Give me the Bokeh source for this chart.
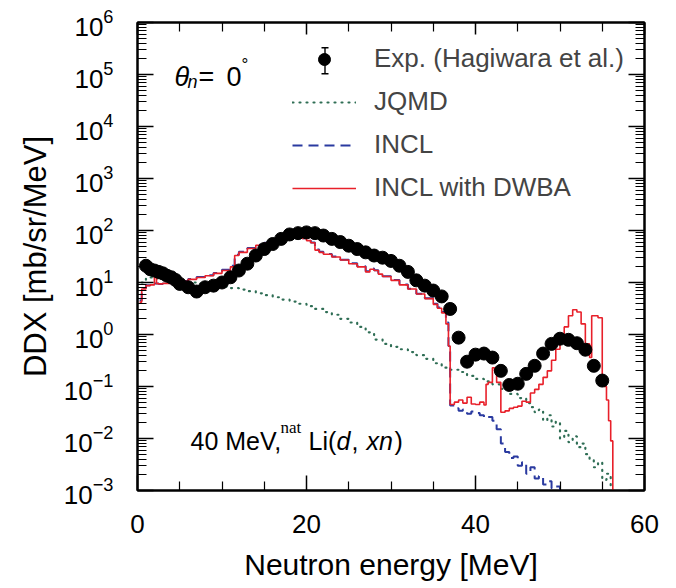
import numpy as np
from bokeh.plotting import figure
from bokeh.models import (LogAxis, LinearAxis, Range1d, Label, Legend, LegendItem,
                          FixedTicker, LogTicker, CustomJSTickFormatter, BoxAnnotation)
from bokeh.embed import file_html
from bokeh.resources import INLINE

FONT = "Liberation Sans"

# ---------------- data ----------------
exp_energy = [1.0, 1.5, 2.0, 2.5, 3.0, 3.5, 4.0, 4.5, 5.0, 6, 7, 8, 9, 10, 11, 12, 13, 14, 15,
              16, 17, 18, 19, 20, 21, 22, 23, 24, 25, 26, 27, 28, 29, 30, 31, 32, 33, 34, 35,
              36, 37, 38, 39, 40, 41, 42, 43, 44, 45, 46, 47, 48, 49, 50, 51, 52, 53, 54, 55]
exp_ddx = [21, 18, 17, 16, 15, 13.5, 12.6, 11.2, 9.4, 8.1, 6.7, 8.1, 8.7, 10, 12.6, 17, 23, 33,
           44, 55, 69, 84, 89, 92, 89, 80, 69, 60, 51, 44, 38, 33, 30, 26, 21, 16, 11, 8.7, 7.0,
           5.4, 3.1, 0.87, 0.30, 0.41, 0.43, 0.36, 0.20, 0.107, 0.113, 0.175, 0.25, 0.43, 0.66,
           0.83, 0.79, 0.68, 0.51, 0.25, 0.13]

dwba_edges = [0.25, 0.5, 1.0, 1.5, 2.0, 2.25, 2.5, 3, 4, 5, 6, 7, 8, 9, 10, 11, 11.5, 12, 13,
              14, 15, 16, 17, 18, 19, 19.5, 20, 20.5, 21, 21.5, 22, 23, 24, 25, 26, 27, 27.5,
              28, 28.5, 29, 30, 31, 32, 33, 34, 35, 35.5, 36, 36.5, 36.8, 37, 37.5, 38, 38.5,
              39, 39.5, 40, 40.5, 41, 41.25, 41.5, 42, 42.25, 42.5, 43, 43.5, 44, 44.5, 45,
              45.5, 46, 46.5, 47, 47.5, 48, 48.5, 49, 49.5, 50, 50.5, 51, 51.5, 52, 52.5, 53,
              53.5, 53.75, 54, 54.5, 55, 55.25, 55.5, 55.75, 56, 56.25, 57]
dwba_ddx = [4.2, 7.5, 8.7, 9.0, 13.5, 9.5, 9.4, 9.6, 9.8, 10.5, 11.5, 12.5, 13.5, 15, 17, 20,
            33, 38, 45, 52, 57, 62, 72, 76, 75, 70, 64, 58, 42, 38, 35, 31, 27, 23, 20, 16, 18,
            17, 14.5, 13, 11, 9, 7.5, 6, 4.9, 3.8, 3.2, 2.6, 1.6, 0.6, 0.045, 0.05, 0.055,
            0.048, 0.062, 0.046, 0.045, 0.05, 0.044, 0.11, 0.12, 0.23, 0.2, 0.12, 0.032, 0.034,
            0.038, 0.04, 0.042, 0.052, 0.05, 0.075, 0.088, 0.11, 0.15, 0.2, 0.32, 0.52, 0.9,
            1.4, 2.3, 3.0, 2.7, 1.6, 0.66, 0.36, 2.3, 2.3, 2.1, 0.13, 0.1, 0.055, 0.022, 0.009,
            1e-6]

incl_edges = [0.25, 0.5, 1.0, 1.5, 2.0, 2.5, 3, 4, 5, 6, 7, 8, 9, 10, 11, 11.5, 12, 13, 14,
              15, 16, 17, 18, 19, 19.5, 20, 20.5, 21, 21.5, 22, 23, 24, 25, 26, 27, 27.5, 28,
              28.5, 29, 30, 31, 32, 33, 34, 35, 35.5, 36, 36.5, 36.8, 37, 37.5, 38, 38.5, 39,
              39.5, 40, 40.5, 41, 41.5, 42, 42.5, 43, 43.5, 44, 44.5, 45, 45.5, 46, 46.5, 47,
              47.5, 48, 48.5, 49, 49.5, 50, 51]
incl_ddx = [4.5, 7.8, 8.9, 9.2, 9.6, 9.4, 9.7, 9.9, 10.7, 11.7, 12.7, 13.8, 15.2, 17.5, 21, 34,
            39, 46, 53, 58, 63, 73, 77, 76, 71, 65, 59, 43, 39, 35.5, 31.5, 27.5, 23.5, 20.5,
            16.5, 18.5, 17.2, 14.8, 13.2, 11.2, 9.2, 7.6, 6.1, 5.0, 3.9, 3.3, 2.7, 1.7, 0.6,
            0.043, 0.038, 0.034, 0.036, 0.030, 0.033, 0.031, 0.028, 0.025, 0.026, 0.022, 0.015,
            0.008, 0.0055, 0.0042, 0.0045, 0.0030, 0.0035, 0.0021, 0.0028, 0.0017, 0.0019,
            0.0013, 0.0015, 0.0011, 0.0012, 1e-6]

jqmd_edges = [0.5, 1, 2, 3, 4, 5, 6, 7, 8, 9, 10, 11, 12, 13, 14, 15, 16, 17, 18, 19, 20, 21,
              22, 23, 24, 25, 26, 27, 28, 29, 30, 31, 32, 33, 34, 35, 36, 37, 38, 39, 40, 41,
              42, 43, 44, 45, 46, 46.5, 47, 47.5, 48, 48.5, 49, 49.5, 50, 50.5, 51, 51.5, 52,
              52.5, 53, 53.5, 54, 54.5, 55, 55.5, 56, 57]
jqmd_ddx = [10, 12.5, 12, 11.5, 11, 10.5, 10, 9.5, 9, 8.7, 8.3, 7.8, 7.3, 6.8, 6.2, 5.7, 5.2,
            4.7, 4.3, 3.9, 3.5, 3.1, 2.7, 2.4, 2.0, 1.7, 1.4, 1.1, 0.8, 0.66, 0.58, 0.52, 0.46,
            0.4, 0.34, 0.28, 0.23, 0.21, 0.19, 0.16, 0.14, 0.125, 0.11, 0.09, 0.072, 0.06,
            0.048, 0.04, 0.032, 0.036, 0.022, 0.028, 0.017, 0.021, 0.010, 0.014, 0.0085, 0.011,
            0.0068, 0.008, 0.005, 0.0038, 0.0028, 0.0035, 0.0016, 0.0021, 1e-6]

x_ticks = [0, 20, 40, 60]
x_minor = [5, 10, 15, 25, 30, 35, 45, 50, 55]


def steps(edges, vals):
    n = min(len(edges) - 1, len(vals))
    return list(edges[:n + 1]), list(vals[:n]) + [vals[n - 1]]


# ---------------- figure ----------------
p = figure(width=676, height=588, x_range=Range1d(0, 60), y_range=Range1d(1e-3, 1e6),
           y_axis_type="log", output_backend="svg", toolbar_location=None,
           min_border_left=137, min_border_right=32, min_border_top=22, min_border_bottom=98)
p.grid.visible = False
p.background_fill_color = "white"
p.border_fill_color = "white"
p.outline_line_color = "black"
p.outline_line_width = 2

RED = "#e8202a"
BLUE = "#2a3aa0"
GREEN = "#2f6e55"

xs, ys = steps(jqmd_edges, jqmd_ddx)
r_jqmd = p.step(xs, ys, mode="after", line_color=GREEN, line_width=2.2, line_dash="1 6",
                line_cap="round")
xs, ys = steps(incl_edges, incl_ddx)
r_incl = p.step(xs, ys, mode="after", line_color=BLUE, line_width=2.0, line_dash="10 6")
xs, ys = steps(dwba_edges, dwba_ddx)
r_dwba = p.step(xs, ys, mode="after", line_color=RED, line_width=1.6)
r_exp = p.scatter(exp_energy, exp_ddx, size=13, marker="circle", fill_color="black",
                  line_color="black")

blank = CustomJSTickFormatter(code="return ''")


def style_axis(ax, major_in, minor_in, labels=True):
    ax.axis_line_width = 2
    ax.major_tick_out = 0
    ax.minor_tick_out = 0
    ax.major_tick_in = major_in
    ax.minor_tick_in = minor_in
    ax.major_tick_line_width = 1.5
    ax.minor_tick_line_width = 1.2
    ax.major_label_text_font = FONT
    ax.major_label_text_font_size = "26px"
    ax.major_label_text_color = "black"
    ax.axis_label_text_color = "black"
    if not labels:
        ax.formatter = blank
        ax.major_label_standoff = 0


xax = p.xaxis[0]
xax.ticker = FixedTicker(ticks=x_ticks, minor_ticks=x_minor)
style_axis(xax, 15, 9)
xax.major_label_standoff = 24
xax.axis_label = "Neutron energy [MeV]"
xax.axis_label_text_font = FONT
xax.axis_label_text_font_size = "30px"
xax.axis_label_text_font_style = "normal"
xax.axis_label_standoff = 12

yax = p.yaxis[0]
yax.ticker = LogTicker(num_minor_ticks=10)
style_axis(yax, 16, 9)
yax.major_label_standoff = 24
yax.axis_label = "DDX [mb/sr/MeV]"
yax.axis_label_text_font = FONT
yax.axis_label_text_font_size = "31px"
yax.axis_label_text_font_style = "normal"
yax.axis_label_standoff = 8

top = LinearAxis(ticker=FixedTicker(ticks=x_ticks, minor_ticks=x_minor))
style_axis(top, 12, 9, labels=False)
p.add_layout(top, "above")

right = LogAxis(ticker=LogTicker(num_minor_ticks=10))
style_axis(right, 16, 9, labels=False)
p.add_layout(right, "right")

# legend
legend = Legend(items=[LegendItem(label="Exp. (Hagiwara et al.)", renderers=[r_exp]),
                       LegendItem(label="JQMD", renderers=[r_jqmd]),
                       LegendItem(label="INCL", renderers=[r_incl]),
                       LegendItem(label="INCL with DWBA", renderers=[r_dwba])],
                location=(155, 287), glyph_width=64, glyph_height=30, label_height=30,
                spacing=12, padding=0, margin=0, label_standoff=18,
                border_line_alpha=0, background_fill_alpha=0,
                label_text_font=FONT, label_text_font_size="26px",
                label_text_baseline="middle")
p.add_layout(legend)

# error-bar symbol beside the legend marker (screen units, frame-relative)
for l, r, b, t in [(186.8, 188.2, 417, 443), (184, 191, 442, 443.5), (184, 191, 416, 417.5)]:
    p.add_layout(BoxAnnotation(left=l, right=r, bottom=b, top=t,
                               left_units="screen", right_units="screen",
                               bottom_units="screen", top_units="screen",
                               fill_color="black", fill_alpha=1.0, line_color=None))


# annotations (screen units relative to frame bottom-left)
def lab(x, y, text, size, style="normal", font=FONT):
    p.add_layout(Label(x=x, y=y, x_units="screen", y_units="screen", text=text,
                       text_font=font, text_font_size=size, text_font_style=style,
                       text_color="black", text_baseline="alphabetic", text_align="left"))


lab(37, 414, "θ", "27px", "italic")
lab(50, 409, "n", "18px", "italic")
lab(61, 414, "=", "27px")
lab(89, 414, "0", "27px")
lab(104, 426, "°", "17px")

lab(53, 50, "40 MeV,", "25px")
lab(143, 63, "nat", "17px", font="Liberation Serif")
lab(171, 50, "Li(", "25px")
lab(199, 50, "d", "25px", "italic")
lab(214, 50, ",", "25px")
lab(229, 50, "xn", "25px", "italic")
lab(257, 50, ")", "25px")

open("out.html", "w").write(file_html(p, INLINE))
